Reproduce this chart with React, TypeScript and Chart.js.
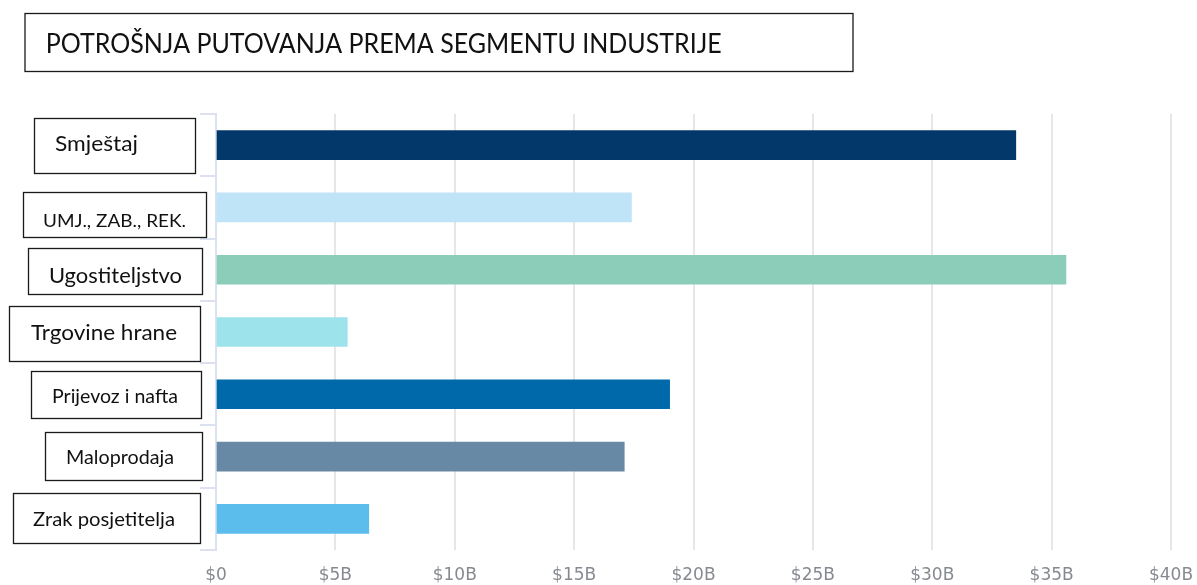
import React, { useEffect, useRef } from "react";
import { Chart, registerables } from "chart.js";

Chart.register(...registerables);

const titleText = "POTROŠNJA PUTOVANJA PREMA SEGMENTU INDUSTRIJE";
const categories = [
  "Smještaj",
  "UMJ., ZAB., REK.",
  "Ugostiteljstvo",
  "Trgovine hrane",
  "Prijevoz i nafta",
  "Maloprodaja",
  "Zrak posjetitelja",
];
const spending = [33.5, 17.4, 35.6, 5.5, 19.0, 17.1, 6.4];
const barColors = ["#03386a", "#bfe4f7", "#8bcdb9", "#9de3eb", "#0069aa", "#6889a6", "#5bbdeb"];
const xTickValues = [0, 5, 10, 15, 20, 25, 30, 35, 40];
const xTickLabels = ["$0", "$5B", "$10B", "$15B", "$20B", "$25B", "$30B", "$35B", "$40B"];

// label box styling (relative to each category's centre)
const boxStyle = [
  { left: 34, right: 195, top: -27.5, bottom: 27, base: 6, textLeft: 55, textWidth: 83, cap: 15 },
  { left: 23, right: 206, top: -15.2, bottom: 29.8, base: 20, textLeft: 43, textWidth: 143, cap: 13 },
  { left: 28, right: 202, top: -21.4, bottom: 24.6, base: 13, textLeft: 49, textWidth: 133, cap: 15 },
  { left: 9, right: 200, top: -25.8, bottom: 29, base: 7.5, textLeft: 31, textWidth: 146, cap: 15 },
  { left: 31, right: 201, top: -23.6, bottom: 23.4, base: 8.5, textLeft: 52, textWidth: 126, cap: 14.3 },
  { left: 45, right: 202, top: -24.8, bottom: 23.2, base: 7.5, textLeft: 66, textWidth: 108, cap: 14.3 },
  { left: 13, right: 200, top: -25.9, bottom: 24.1, base: 7, textLeft: 33, textWidth: 142, cap: 14.3 },
];
const LABEL_FONT = "Lato";
const CAP_RATIO = 0.7165;

function drawFittedText(ctx: CanvasRenderingContext2D, text: string, x: number, baseY: number, width: number, size: number) {
  ctx.save();
  ctx.font = `${size}px ${LABEL_FONT}`;
  ctx.textBaseline = "alphabetic";
  ctx.textAlign = "left";
  ctx.fillStyle = "#111111";
  const w = ctx.measureText(text).width;
  const sx = width / w;
  ctx.translate(x, baseY);
  ctx.scale(sx, 1);
  ctx.fillText(text, 0, 0);
  ctx.restore();
}

const boxesPlugin = {
  id: "boxes",
  afterDraw(chart: any) {
    const ctx: CanvasRenderingContext2D = chart.ctx;
    const y = chart.scales.y;
    ctx.save();
    ctx.strokeStyle = "#1a1a1a";
    ctx.lineWidth = 1.3;
    // title box
    ctx.strokeRect(25, 13.5, 828, 58);
    drawFittedText(ctx, titleText, 45.7, 53, 676, 19.6 / CAP_RATIO);
    categories.forEach((c, i) => {
      const s = boxStyle[i];
      const cy = y.getPixelForValue(i);
      ctx.strokeRect(s.left + 0.5, Math.round(cy + s.top) + 0.5, s.right - s.left, Math.round(s.bottom - s.top));
      drawFittedText(ctx, c, s.textLeft, cy + s.base, s.textWidth, s.cap / CAP_RATIO);
    });
    ctx.restore();
  },
};

export default function App() {
  const ref = useRef<HTMLCanvasElement | null>(null);
  useEffect(() => {
    document.body.style.margin = "0";
    const canvas = ref.current!;
    const chart = new Chart(canvas, {
      type: "bar",
      data: {
        labels: categories,
        datasets: [
          {
            data: spending,
            backgroundColor: barColors,
            borderWidth: 0,
            barThickness: 29,
          },
        ],
      },
      options: {
        indexAxis: "y",
        animation: false,
        responsive: false,
        maintainAspectRatio: false,
        layout: { padding: { top: 114, right: 26, left: 0, bottom: 0 } },
        plugins: {
          legend: { display: false },
          title: { display: false },
          tooltip: { enabled: false },
        },
        scales: {
          x: {
            type: "linear",
            min: 0,
            max: 40,
            afterFit: (s: any) => {
              s.height = 35;
              s.paddingLeft = 0;
              s.paddingRight = 0;
            },
            afterBuildTicks: (s: any) => {
              s.ticks = xTickValues.map((v) => ({ value: v }));
            },
            ticks: {
              callback: (_v: any, i: number) => xTickLabels[i],
              font: { family: "DejaVu Sans", size: 17 },
              color: "#868a90",
              padding: 15,
              maxRotation: 0,
            },
            grid: { color: "#e6e6e6", lineWidth: 2, drawTicks: false },
            border: { display: false },
          },
          y: {
            type: "category",
            afterFit: (s: any) => {
              s.width = 216;
            },
            ticks: { display: false },
            grid: {
              offset: true,
              drawOnChartArea: false,
              drawTicks: true,
              tickLength: 16,
              color: "#dbe1f1",
              lineWidth: 2,
            },
            border: { display: true, color: "#dbe1f1", width: 2 },
          },
        },
      },
      plugins: [boxesPlugin],
    });
    return () => chart.destroy();
  }, []);
  return (
    <div style={{ width: 1197, height: 585, position: "relative", background: "#fff" }}>
      <canvas ref={ref} width={1197} height={585} style={{ display: "block" }} />
    </div>
  );
}
